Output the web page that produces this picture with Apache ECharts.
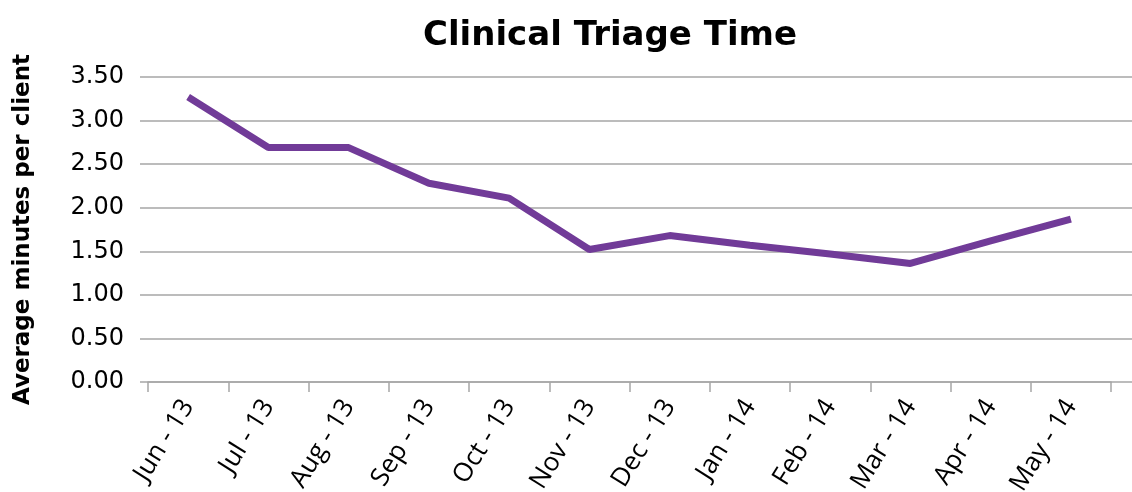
<!DOCTYPE html>
<html>
<head>
<meta charset="utf-8">
<script src="https://cdn.jsdelivr.net/npm/echarts@6/dist/echarts.min.js"></script>
<style>
  html, body { margin: 0; padding: 0; background: #fff; }
  #main { width: 1132px; height: 492px; }
</style>
</head>
<body>
<div id="main"></div>
<script>
// 月份
var months = ['Jun - 13', 'Jul - 13', 'Aug - 13', 'Sep - 13', 'Oct - 13', 'Nov - 13',
              'Dec - 13', 'Jan - 14', 'Feb - 14', 'Mar - 14', 'Apr - 14', 'May - 14'];
// 平均分钟数
var avgMinutes = [3.27, 2.69, 2.69, 2.28, 2.11, 1.52, 1.68, 1.57, 1.47, 1.36, 1.62, 1.87];

var myChart = echarts.init(document.getElementById('main'));
var option = {
  backgroundColor: '#fff',
  animation: false,
  title: {
    text: 'Clinical Triage Time',
    left: 418,
    top: 14,
    textStyle: { fontFamily: 'DejaVu Sans', fontWeight: 'bold', fontSize: 34, color: '#000' }
  },
  grid: [
    // 数据区
    { left: 148, right: 21, top: 77, bottom: 110, outerBoundsMode: 'none' },
    // 网格线 (比数据区宽)
    { left: 140, right: 0, top: 77, bottom: 110, outerBoundsMode: 'none' }
  ],
  xAxis: [
    {
      type: 'category', gridIndex: 0, data: months, boundaryGap: true,
      axisLine: { lineStyle: { color: '#A6A6A6', width: 1.5 } },
      axisTick: { show: true, length: 10, lineStyle: { color: '#A6A6A6', width: 1.5 } },
      axisLabel: { rotate: 58, margin: 20, fontFamily: 'Open Sans', fontSize: 26, color: '#000' }
    },
    { type: 'value', gridIndex: 1, show: false, min: 0, max: 1 }
  ],
  yAxis: [
    { type: 'value', gridIndex: 0, min: 0, max: 3.5, interval: 0.5, show: false },
    {
      type: 'value', gridIndex: 1, min: 0, max: 3.5, interval: 0.5,
      name: 'Average minutes per client', nameLocation: 'middle', nameGap: 105,
      nameTextStyle: { fontFamily: 'DejaVu Sans', fontWeight: 'bold', fontSize: 23, color: '#000' },
      axisLine: { show: false }, axisTick: { show: false },
      axisLabel: { margin: 16, fontFamily: 'DejaVu Sans', fontSize: 24, color: '#000',
        formatter: function (v) { return v.toFixed(2); } },
      splitLine: { lineStyle: { color: '#A6A6A6', width: 1.5 } }
    }
  ],
  series: [{
    type: 'line', xAxisIndex: 0, yAxisIndex: 0, data: avgMinutes,
    symbol: 'none', lineStyle: { color: '#713B98', width: 7 }
  }]
};
myChart.setOption(option);
</script>
</body>
</html>
